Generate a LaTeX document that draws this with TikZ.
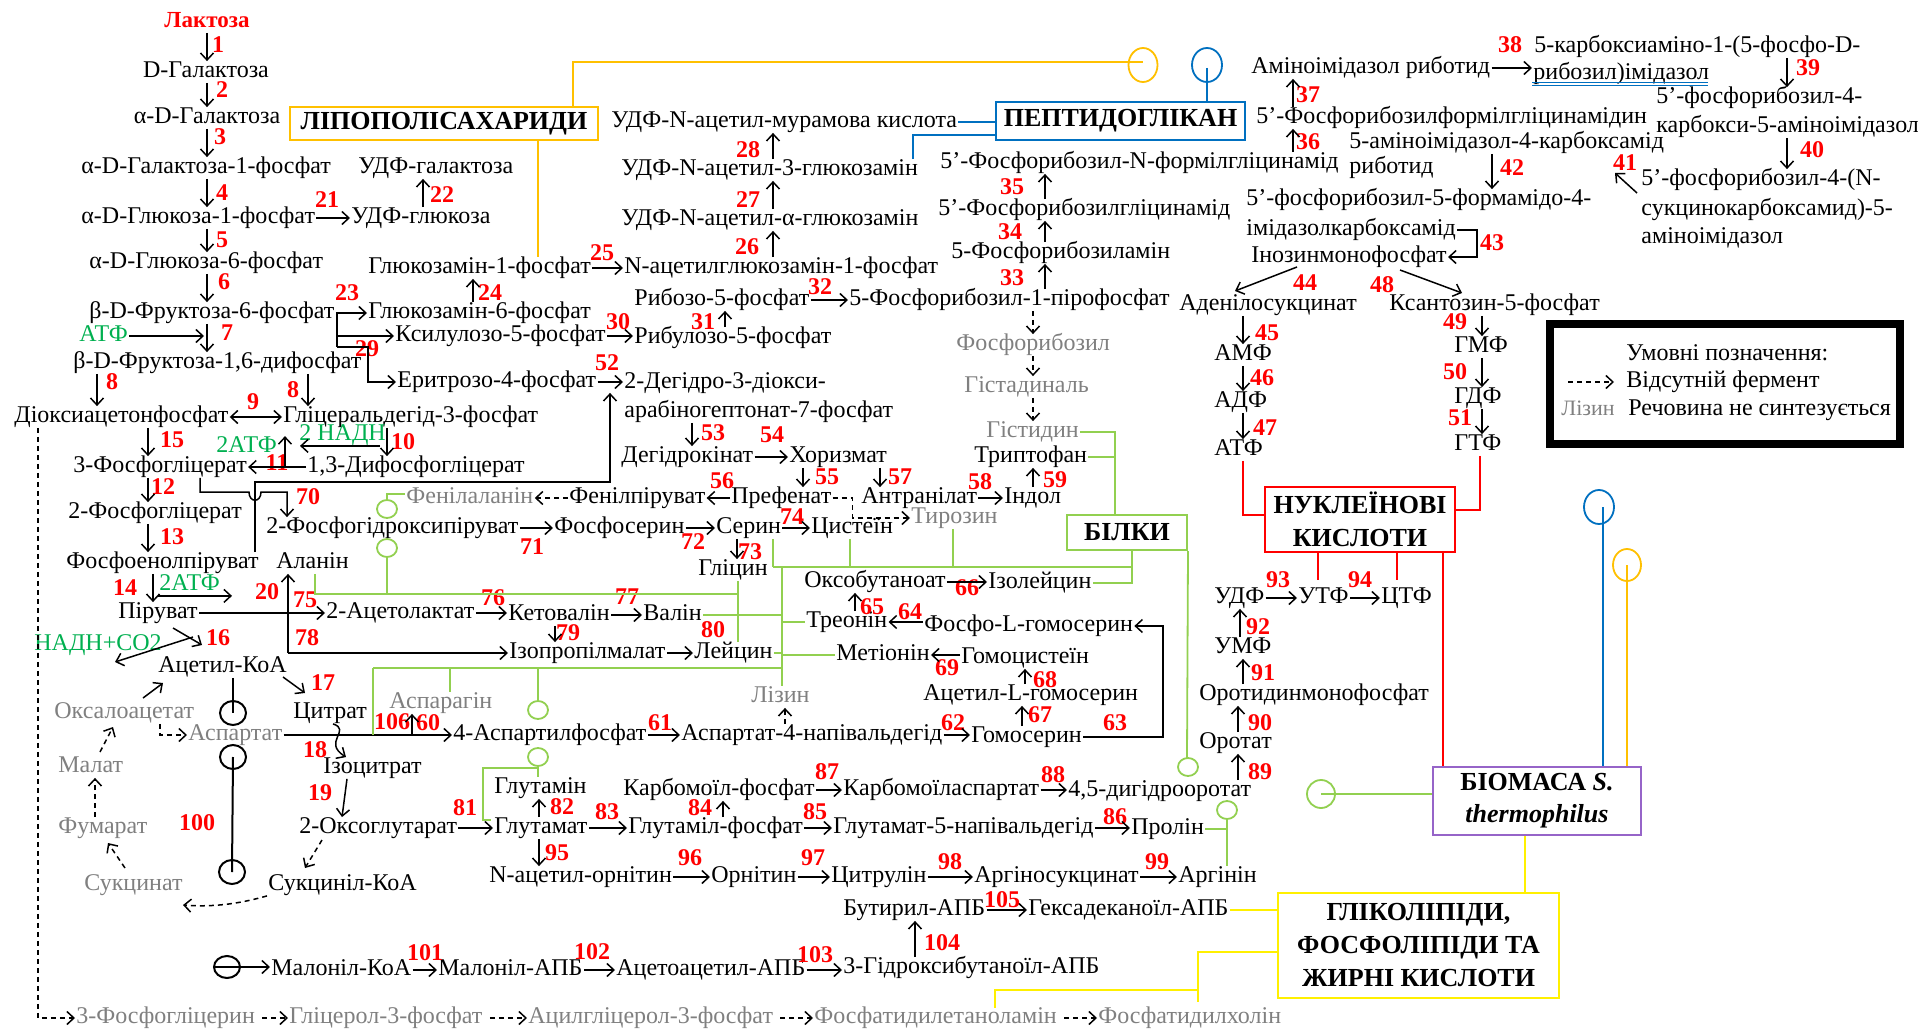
\documentclass[tikz,border=0pt]{standalone}
\usepackage{fontspec}
\setmainfont{Liberation Serif}
\usetikzlibrary{arrows.meta}
\definecolor{grn}{RGB}{0,176,80}
\definecolor{lgrn}{RGB}{146,208,80}
\definecolor{org}{RGB}{255,192,0}
\definecolor{blu}{RGB}{0,112,192}
\definecolor{ylw}{RGB}{255,240,0}
\definecolor{prp}{RGB}{150,100,200}
\definecolor{gry}{RGB}{128,128,128}
\newcommand\dnA[3]{\draw[arr] (#1,0 |- #2.south) -- (#1,0 |- #3.north);}
\newcommand\upA[3]{\draw[arr] (#1,0 |- #2.north) -- (#1,0 |- #3.south);}
\newcommand\hA[2]{\draw[arr] (#1.east) -- (#1.east -| #2.west);}
\begin{document}
\begin{tikzpicture}[x=0.5pt,y=-0.5pt,
 tx/.style={anchor=west,inner sep=0.5pt,font=\fontsize{12}{14}\selectfont,text height=7.5pt,text depth=2pt},
 cx/.style={tx,anchor=center},
 gx/.style={tx,text=gry},
 gtx/.style={tx,text=grn},
 num/.style={inner sep=0pt,font=\fontsize{12}{14}\selectfont\bfseries,text=red},
 bx/.style={draw,line width=1pt,font=\fontsize{13}{16.5}\selectfont\bfseries,align=center,inner sep=1pt},
 arr/.style={line width=0.75pt,-{Straight Barb[length=3.5pt,width=6.5pt]}},
 dbl/.style={line width=0.75pt,{Straight Barb[length=3.5pt,width=6.5pt]}-{Straight Barb[length=3.5pt,width=6.5pt]}},
 darr/.style={arr,dash pattern=on 2.5pt off 2pt},
 gl/.style={draw=lgrn,line width=0.9pt},
 ol/.style={draw=org,line width=0.9pt},
 bl/.style={draw=blu,line width=0.9pt},
 rl/.style={draw=red,line width=0.9pt},
 yl/.style={draw=ylw,line width=0.9pt},
 cl/.style={draw=black,line width=1pt}
]
\fill[white] (0,0) rectangle (1918,1032);
\useasboundingbox (0,0) rectangle (1918,1032);

% ---------------- left column ----------------
\node[cx,text=red,font=\fontsize{11.5}{14}\selectfont\bfseries] (lac) at (207,22) {Лактоза};
\node[cx] (dgal) at (206,72) {D-Галактоза};
\node[cx] (adgal) at (207,118) {α-D-Галактоза};
\node[tx] (gal1p) at (80,168) {α-D-Галактоза-1-фосфат};
\node[tx] (glc1p) at (80,218) {α-D-Глюкоза-1-фосфат};
\node[tx] (glc6p) at (88,263) {α-D-Глюкоза-6-фосфат};
\node[tx] (f6p) at (88,313) {β-D-Фруктоза-6-фосфат};
\node[gtx] (atpa) at (78,336) {АТФ};
\node[tx] (fbp) at (72,363) {β-D-Фруктоза-1,6-дифосфат};
\node[tx] (dhap) at (13,417) {Діоксиацетонфосфат};
\node[tx] (g3p) at (282,417) {Гліцеральдегід-3-фосфат};
\node[tx] (pg3) at (72,467) {3-Фосфогліцерат};
\node[tx] (bpg) at (306,467) {1,3-Дифосфогліцерат};
\node[gtx] (nadh) at (298,435) {2 НАДН};
\node[gtx] (atpb) at (215,447) {2АТФ};
\node[tx] (pg2) at (67,513) {2-Фосфогліцерат};
\node[tx] (php) at (265,528) {2-Фосфогідроксипіруват};
\node[tx] (pep) at (65,563) {Фосфоенолпіруват};
\node[tx] (ala) at (275,563) {Аланін};
\node[gtx] (atpc) at (158,585) {2АТФ};
\node[tx] (pyr) at (117,613) {Піруват};
\node[gtx] (nadhco) at (33,645) {НАДН+СО2};
\node[tx] (acoa) at (157,667) {Ацетил-КоА};
\node[gx] (oaa) at (53,713) {Оксалоацетат};
\node[tx] (cit) at (292,713) {Цитрат};
\node[gx] (asp) at (187,735) {Аспартат};
\node[gx] (mal) at (57,767) {Малат};
\node[tx] (icit) at (322,768) {Ізоцитрат};
\node[gx] (fum) at (57,828) {Фумарат};
\node[tx] (akg) at (298,828) {2-Оксоглутарат};
\node[gx] (succ) at (83,885) {Сукцинат};
\node[tx] (succoa) at (267,885) {Сукциніл-КоА};
\node[tx] (malcoa) at (270,970) {Малоніл-КоА};
\node[gx] (pgl) at (75,1018) {3-Фосфогліцерин};
\node[gx] (g3pl) at (288,1018) {Гліцерол-3-фосфат};
\node[gx] (lpa) at (527,1018) {Ацилгліцерол-3-фосфат};
\node[gx] (pe) at (813,1018) {Фосфатидилетаноламін};
\node[gx] (pc) at (1097,1018) {Фосфатидилхолін};

% ---------------- middle ----------------
\node[tx] (udpgal) at (357,168) {УДФ-галактоза};
\node[tx] (udpglc) at (350,218) {УДФ-глюкоза};
\node[bx,draw=org,minimum width=154pt,minimum height=16.5pt] (lps) at (444,123.5) {ЛІПОПОЛІСАХАРИДИ};
\node[tx] (gln1p) at (367,268) {Глюкозамін-1-фосфат};
\node[tx] (gln6p) at (367,313) {Глюкозамін-6-фосфат};
\node[tx] (xyl) at (394,336) {Ксилулозо-5-фосфат};
\node[tx] (ery) at (396,382) {Еритрозо-4-фосфат};
\node[tx] (nag1p) at (623,268) {N-ацетилглюкозамін-1-фосфат};
\node[tx] (udpnag) at (620,220) {УДФ-N-ацетил-α-глюкозамін};
\node[tx] (udpna3) at (620,170) {УДФ-N-ацетил-3-глюкозамін};
\node[tx] (udpnam) at (610,122) {УДФ-N-ацетил-мурамова кислота};
\node[tx] (r5p) at (633,300) {Рибозо-5-фосфат};
\node[tx] (ru5p) at (633,338) {Рибулозо-5-фосфат};
\node[tx] (prpp) at (848,300) {5-Фосфорибозил-1-пірофосфат};
\node[tx] (pra) at (950,253) {5-Фосфорибозиламін};
\node[tx] (gar) at (937,210) {5'-Фосфорибозилгліцинамід};
\node[tx,anchor=east] (fgar) at (1340,163) {5'-Фосфорибозил-N-формілгліцинамід};
\node[bx,draw=blu,minimum width=124.5pt,minimum height=19pt] (pept) at (1120.5,121) {ПЕПТИДОГЛІКАН};
\node[gx] (frib) at (955,345) {Фосфорибозил};
\node[gx] (hisal) at (963,387) {Гістадиналь};
\node[gx] (his) at (985,432) {Гістидин};
\node[tx] (trp) at (973,457) {Триптофан};
\node[tx] (indol) at (1003,498) {Індол};
\node[tx] (anth) at (860,498) {Антранілат};
\node[gx] (tyr) at (910,518) {Тирозин};
\node[tx] (preph) at (730,498) {Префенат};
\node[tx] (phpyr) at (568,498) {Фенілпіруват};
\node[gx] (phe) at (405,498) {Фенілаланін};
\node[tx] (dahpa) at (623,383) {2-Дегідро-3-діокси-};
\node[tx] (dahpb) at (623,412) {арабіногептонат-7-фосфат};
\node[tx] (dhq) at (620,457) {Дегідрокінат};
\node[tx] (chor) at (788,457) {Хоризмат};
\node[tx] (pser) at (553,528) {Фосфосерин};
\node[tx] (ser) at (715,528) {Серин};
\node[tx] (cys) at (810,528) {Цистеїн};
\node[tx] (gly) at (697,570) {Гліцин};
\node[tx] (oxob) at (803,582) {Оксобутаноат};
\node[tx] (ile) at (987,583) {Ізолейцин};
\node[bx,draw=lgrn,minimum width=60pt,minimum height=17.5pt] (bilki) at (1127,532.5) {БІЛКИ};
\node[tx] (thr) at (805,622) {Треонін};
\node[tx] (phser) at (923,626) {Фосфо-L-гомосерин};
\node[tx] (met) at (835,655) {Метіонін};
\node[tx] (hcys) at (960,658) {Гомоцистеїн};
\node[tx] (acser) at (922,695) {Ацетил-L-гомосерин};
\node[tx] (hser) at (970,737) {Гомосерин};
\node[tx] (alac) at (325,613) {2-Ацетолактат};
\node[tx] (kval) at (507,615) {Кетовалін};
\node[tx] (val) at (642,615) {Валін};
\node[tx] (ipm) at (508,653) {Ізопропілмалат};
\node[tx] (leu) at (693,653) {Лейцин};
\node[gx] (asn) at (388,703) {Аспарагін};
\node[gx] (lys) at (750,697) {Лізин};
\node[tx] (aspp) at (452,735) {4-Аспартилфосфат};
\node[tx] (asa) at (680,735) {Аспартат-4-напівальдегід};
\node[tx] (gln) at (493,788) {Глутамін};
\node[tx] (glu) at (493,828) {Глутамат};
\node[tx] (glup) at (627,828) {Глутаміл-фосфат};
\node[tx] (cp) at (622,790) {Карбомоїл-фосфат};
\node[tx] (casp) at (842,790) {Карбомоїласпартат};
\node[tx] (dho) at (1067,791) {4,5-дигідрооротат};
\node[tx] (gsa) at (832,828) {Глутамат-5-напівальдегід};
\node[tx] (pro) at (1130,829) {Пролін};
\node[tx] (nao) at (488,877) {N-ацетил-орнітин};
\node[tx] (orn) at (710,877) {Орнітин};
\node[tx] (citr) at (830,877) {Цитрулін};
\node[tx] (args) at (973,877) {Аргіносукцинат};
\node[tx] (arg) at (1177,877) {Аргінін};
\node[tx] (butacp) at (842,910) {Бутирил-АПБ};
\node[tx] (hexacp) at (1027,910) {Гексадеканоїл-АПБ};
\node[tx] (malacp) at (437,970) {Малоніл-АПБ};
\node[tx] (acacp) at (615,970) {Ацетоацетил-АПБ};
\node[tx] (hbacp) at (842,968) {3-Гідроксибутаноїл-АПБ};

% ---------------- right ----------------
\node[tx] (air) at (1250,68) {Аміноімідазол риботид};
\node[tx] (cair1) at (1533,47) {5-карбоксиаміно-1-(5-фосфо-D-};
\node[tx] (cair2) at (1532,74) {рибозил)імідазол};
\node[tx] (fgam) at (1255,118) {5'-Фосфорибозилформілгліцинамідин};
\node[tx] (aica1) at (1348,143) {5-аміноімідазол-4-карбоксамід};
\node[tx] (aica2) at (1348,168) {риботид};
\node[tx] (cair3) at (1655,98) {5'-фосфорибозил-4-};
\node[tx] (cair4) at (1655,127) {карбокси-5-аміноімідазол};
\node[tx] (saic1) at (1640,180) {5'-фосфорибозил-4-(N-};
\node[tx] (saic2) at (1640,210) {сукцинокарбоксамид)-5-};
\node[tx] (saic3) at (1640,238) {аміноімідазол};
\node[tx] (faica1) at (1245,200) {5'-фосфорибозил-5-формамідо-4-};
\node[tx] (faica2) at (1245,230) {імідазолкарбоксамід};
\node[tx] (imp) at (1250,257) {Інозинмонофосфат};
\node[tx] (adsucc) at (1178,305) {Аденілосукцинат};
\node[tx] (xmp) at (1388,305) {Ксантозин-5-фосфат};
\node[tx] (amp) at (1213,355) {АМФ};
\node[tx] (adp) at (1213,402) {АДФ};
\node[tx] (atp) at (1213,450) {АТФ};
\node[tx] (gmp) at (1453,347) {ГМФ};
\node[tx] (gdp) at (1453,398) {ГДФ};
\node[tx] (gtp) at (1453,445) {ГТФ};
\node[bx,draw=red,minimum width=95pt,minimum height=32.5pt] (nuc) at (1360,519.5) {НУКЛЕЇНОВІ\\КИСЛОТИ};
\node[tx] (udp) at (1213,598) {УДФ};
\node[tx] (utp) at (1297,598) {УТФ};
\node[tx] (ctp) at (1380,598) {ЦТФ};
\node[tx] (ump) at (1213,648) {УМФ};
\node[tx] (omp) at (1198,695) {Оротидинмонофосфат};
\node[tx] (oro) at (1198,743) {Оротат};
\node[bx,draw=prp,minimum width=104pt,minimum height=34pt,font=\fontsize{13}{16}\selectfont\bfseries] (bio) at (1537,801) {БІОМАСА \textit{S.}\\\textit{thermophilus}};
\node[bx,draw=ylw,minimum width=140.5pt,minimum height=52.5pt] (lip) at (1418.5,945.5) {ГЛІКОЛІПІДИ,\\ФОСФОЛІПІДИ ТА\\ЖИРНІ КИСЛОТИ};

% legend
\node[draw,line width=4pt,minimum width=175pt,minimum height=60pt,inner sep=0pt] (legend) at (1725,384) {};
\node[tx] (lg1) at (1625,355) {Умовні позначення:};
\node[tx] (lg2) at (1625,382) {Відсутній фермент};
\node[gx,font=\fontsize{11}{13}\selectfont] (lg3) at (1560,410) {Лізин};
\node[tx] (lg4) at (1627,410) {Речовина не синтезується};
\draw[darr] (lg2.west -| 1568,0) -- (lg2.west -| 1614,0);

% ---------------- numbers ----------------
\node[num] (n1) at (218,45) {1};
\node[num] (n2) at (222,90) {2};
\node[num] (n3) at (220,137) {3};
\node[num] (n4) at (222,193) {4};
\node[num] (n5) at (222,240) {5};
\node[num] (n6) at (224,282) {6};
\node[num] (n7) at (227,333) {7};
\node[num] (n8a) at (112,382) {8};
\node[num] (n8b) at (293,390) {8};
\node[num] (n9) at (253,402) {9};
\node[num] (n10) at (403,442) {10};
\node[num] (n11) at (277,463) {11};
\node[num] (n12) at (163,487) {12};
\node[num] (n13) at (172,537) {13};
\node[num] (n14) at (125,588) {14};
\node[num] (n15) at (172,440) {15};
\node[num] (n16) at (218,638) {16};
\node[num] (n17) at (323,683) {17};
\node[num] (n18) at (315,750) {18};
\node[num] (n19) at (320,793) {19};
\node[num] (n20) at (267,592) {20};
\node[num] (n21) at (327,200) {21};
\node[num] (n22) at (442,195) {22};
\node[num] (n23) at (347,293) {23};
\node[num] (n24) at (490,293) {24};
\node[num] (n25) at (602,253) {25};
\node[num] (n26) at (747,247) {26};
\node[num] (n27) at (748,200) {27};
\node[num] (n28) at (748,150) {28};
\node[num] (n29) at (367,349) {29};
\node[num] (n30) at (618,322) {30};
\node[num] (n31) at (703,322) {31};
\node[num] (n32) at (820,287) {32};
\node[num] (n33) at (1012,278) {33};
\node[num] (n34) at (1010,232) {34};
\node[num] (n35) at (1012,187) {35};
\node[num] (n36) at (1308,142) {36};
\node[num] (n37) at (1308,95) {37};
\node[num] (n38) at (1510,45) {38};
\node[num] (n39) at (1808,68) {39};
\node[num] (n40) at (1812,150) {40};
\node[num] (n41) at (1625,163) {41};
\node[num] (n42) at (1512,168) {42};
\node[num] (n43) at (1492,243) {43};
\node[num] (n44) at (1305,283) {44};
\node[num] (n45) at (1267,333) {45};
\node[num] (n46) at (1262,378) {46};
\node[num] (n47) at (1265,428) {47};
\node[num] (n48) at (1382,285) {48};
\node[num] (n49) at (1455,322) {49};
\node[num] (n50) at (1455,372) {50};
\node[num] (n51) at (1460,418) {51};
\node[num] (n52) at (607,363) {52};
\node[num] (n53) at (713,433) {53};
\node[num] (n54) at (772,435) {54};
\node[num] (n55) at (827,477) {55};
\node[num] (n56) at (722,481) {56};
\node[num] (n57) at (900,477) {57};
\node[num] (n58) at (980,482) {58};
\node[num] (n59) at (1055,480) {59};
\node[num] (n60) at (428,723) {60};
\node[num] (n61) at (660,723) {61};
\node[num] (n62) at (953,723) {62};
\node[num] (n63) at (1115,723) {63};
\node[num] (n64) at (910,612) {64};
\node[num] (n65) at (872,607) {65};
\node[num] (n66) at (967,588) {66};
\node[num] (n67) at (1040,715) {67};
\node[num] (n68) at (1045,680) {68};
\node[num] (n69) at (947,668) {69};
\node[num] (n70) at (308,497) {70};
\node[num] (n71) at (532,547) {71};
\node[num] (n72) at (693,542) {72};
\node[num] (n73) at (750,552) {73};
\node[num] (n74) at (792,517) {74};
\node[num] (n75) at (305,600) {75};
\node[num] (n76) at (493,598) {76};
\node[num] (n77) at (627,597) {77};
\node[num] (n78) at (307,638) {78};
\node[num] (n79) at (568,633) {79};
\node[num] (n80) at (713,630) {80};
\node[num] (n81) at (465,808) {81};
\node[num] (n82) at (562,807) {82};
\node[num] (n83) at (607,812) {83};
\node[num] (n84) at (700,808) {84};
\node[num] (n85) at (815,812) {85};
\node[num] (n86) at (1115,817) {86};
\node[num] (n87) at (827,772) {87};
\node[num] (n88) at (1053,775) {88};
\node[num] (n89) at (1260,772) {89};
\node[num] (n90) at (1260,723) {90};
\node[num] (n91) at (1263,673) {91};
\node[num] (n92) at (1258,627) {92};
\node[num] (n93) at (1278,580) {93};
\node[num] (n94) at (1360,580) {94};
\node[num] (n95) at (557,853) {95};
\node[num] (n96) at (690,858) {96};
\node[num] (n97) at (813,858) {97};
\node[num] (n98) at (950,862) {98};
\node[num] (n99) at (1157,862) {99};
\node[num] (n100) at (197,823) {100};
\node[num] (n101) at (425,953) {101};
\node[num] (n102) at (592,952) {102};
\node[num] (n103) at (815,955) {103};
\node[num] (n104) at (942,943) {104};
\node[num] (n105) at (1002,900) {105};
\node[num] (n106) at (392,722) {106};

% ---------------- arrows: left column ----------------
\dnA{207}{lac}{dgal}
\dnA{207}{dgal}{adgal}
\dnA{207}{adgal}{gal1p}
\dnA{207}{gal1p}{glc1p}
\dnA{207}{glc1p}{glc6p}
\dnA{207}{glc6p}{f6p}
\dnA{207}{f6p}{fbp}
\draw[arr] (atpa.east) -- (atpa.east -| 204,0);
\dnA{97}{fbp}{dhap}
\dnA{308}{fbp}{g3p}
\draw[dbl] (dhap.east) -- (dhap.east -| g3p.west);
\dnA{148}{dhap}{pg3}
\dnA{387}{g3p}{bpg}
\draw[arr] (nadh.south -| 380,0) -- (nadh.south -| 300,0);
\draw[arr] (bpg.west) -- (bpg.west -| pg3.east);
\draw[arr] (bpg.west -| 285,0) -- (285,0 |- atpb.north);
\dnA{148}{pg3}{pg2}
\dnA{148}{pg2}{pep}
\dnA{153}{pep}{pyr}
\draw[arr] (atpc.south west) -- (atpc.south west -| 232,0);
\draw[arr] (200,0 |- pg3.south) -- (200,492) -- (249,492) .. controls (249,503) and (261,503) .. (261,492) -- (287,492) -- (287,0 |- php.north);
\draw[arr] (255,0 |- pep.north) -- (255,482) -- (610,482) -- (610,0 |- ery.south);
\draw[arr] (pyr.east) -- (pyr.east -| alac.west);
\draw[arr] (ipm.west -| 288,0) -- (288,0 |- ala.south);
\draw[arr] (ipm.west -| 288,0) -- (ipm.west);
\draw[arr] (173,628) -- (202,645);
\draw[arr] (193,637) -- (115,662);
\draw[arr] (143,698) -- (163,683);
\draw[arr] (283,677) -- (305,693);
\draw[arr] (333,0 |- cit.south) .. controls (352,730) and (322,742) .. (346,0 |- icit.north);
\draw[arr] (347,0 |- icit.south) -- (342,0 |- akg.north);
\draw[darr] (322,840) -- (305,868);
\draw[darr] (succoa.south west) .. controls (235,905) and (210,907) .. (183,905);
\draw[darr] (125,868) -- (108,843);
\draw[darr] (95,0 |- fum.north) -- (95,0 |- mal.south);
\draw[darr] (100,752) -- (113,727);
\draw[darr] (160,0 |- oaa.south) |- (asp.west);
\draw[darr] (38,0 |- dhap.south) |- (pgl.west);
\draw[darr,shorten <=3pt] (pgl.east) -- (pgl.east -| g3pl.west);
\draw[darr,shorten <=3pt] (g3pl.east) -- (g3pl.east -| lpa.west);
\draw[darr,shorten <=3pt] (lpa.east) -- (lpa.east -| pe.west);
\draw[darr,shorten <=3pt] (pe.east) -- (pe.east -| pc.west);

% circles (TCA inhibition marks)
\draw[cl] (233,0 |- acoa.south) -- (233,713);
\draw[cl] (233,713) ellipse [x radius=6.5pt, y radius=6pt];
\draw[cl] (233,757) ellipse [x radius=6.5pt, y radius=6pt];
\draw[cl] (232,872) ellipse [x radius=6.5pt, y radius=6pt];
\draw[cl] (233,757) -- (232,872);
\draw[cl] (227,967) ellipse [x radius=6.5pt, y radius=5.5pt];
\draw[arr] (213,967) -- (malcoa.west |- 0,967);

% ---------------- arrows: middle ----------------
\hA{glc1p}{udpglc}
\upA{423}{udpglc}{udpgal}
\draw[arr] (f6p.east) -- (f6p.east -| gln6p.west);
\draw[line width=0.75pt] (337,313) -- (337,347);
\draw[arr] (337,0 |- xyl.west) -- (xyl.west);
\draw[arr] (337,347) -- (368,347) |- (ery.west);
\upA{473}{gln6p}{gln1p}
\hA{gln1p}{nag1p}
\upA{773}{nag1p}{udpnag}
\upA{773}{udpnag}{udpna3}
\upA{773}{udpna3}{udpnam}
\hA{xyl}{ru5p}
\upA{725}{ru5p}{r5p}
\hA{r5p}{prpp}
\upA{1045}{prpp}{pra}
\upA{1045}{pra}{gar}
\upA{1045}{gar}{fgar}
\draw[darr] (1033,0 |- prpp.south) -- (1033,0 |- frib.north);
\draw[darr] (1033,0 |- frib.south) -- (1033,0 |- hisal.north);
\draw[darr] (1033,0 |- hisal.south) -- (1033,0 |- his.north);
\hA{ery}{dahpa}
\dnA{692}{dahpb}{dhq}
\hA{dhq}{chor}
\dnA{803}{chor}{preph}
\dnA{880}{chor}{anth}
\draw[arr] (preph.west) -- (preph.west -| phpyr.east);
\draw[darr] (phpyr.west) -- (phpyr.west -| phe.east);
\draw[darr] (preph.east) -- ++(20,0) |- (tyr.west);
\hA{anth}{indol}
\upA{1033}{indol}{trp}
\hA{php}{pser}
\hA{pser}{ser}
\hA{ser}{cys}
\dnA{737}{ser}{gly}
\hA{alac}{kval}
\hA{kval}{val}
\dnA{555}{kval}{ipm}
\hA{ipm}{leu}
\draw[arr] (asp.east) -- (asp.east -| aspp.west);
\draw[arr] (asp.east -| 412,0) -- (412,0 |- asn.south);
\hA{aspp}{asa}
\hA{asa}{hser}
\draw[darr] (785,0 |- asa.north) -- (785,0 |- lys.south);
\draw[arr] (hser.east) -- ++(80,0) |- (phser.east);
\draw[arr] (phser.west |- thr.east) -- (thr.east);
\upA{855}{thr}{oxob}
\hA{oxob}{ile}
\upA{1022}{hser}{acser}
\upA{1025}{acser}{hcys}
\draw[arr] (hcys.west |- met.east) -- (met.east);
\hA{akg}{glu}
\upA{539}{glu}{gln}
\hA{glu}{glup}
\upA{723}{glup}{cp}
\hA{glup}{gsa}
\hA{gsa}{pro}
\hA{cp}{casp}
\hA{casp}{dho}
\dnA{539}{glu}{nao}
\hA{nao}{orn}
\hA{orn}{citr}
\hA{citr}{args}
\hA{args}{arg}
\hA{malcoa}{malacp}
\hA{malacp}{acacp}
\hA{acacp}{hbacp}
\upA{915}{hbacp}{butacp}
\hA{butacp}{hexacp}

% ---------------- arrows: right ----------------
\upA{1293}{fgar}{fgam}
\upA{1293}{fgam}{air}
\draw[arr] (air.east) -- (air.east -| cair2.west);
\dnA{1787}{cair1}{cair3}
\dnA{1787}{cair4}{saic1}
\draw[arr] (1637,193) -- (1615,173);
\dnA{1492}{aica1}{faica1}
\draw[arr] (faica2.east) -- ++(20,0) |- (imp.east);
\draw[arr] (1297,267) -- (1235,291);
\draw[arr] (1400,270) -- (1462,293);
\dnA{1243}{adsucc}{amp}
\dnA{1243}{amp}{adp}
\dnA{1243}{adp}{atp}
\dnA{1482}{xmp}{gmp}
\dnA{1482}{gmp}{gdp}
\dnA{1482}{gdp}{gtp}
\upA{1238}{dho}{oro}
\upA{1238}{oro}{omp}
\upA{1243}{omp}{ump}
\upA{1240}{ump}{udp}
\hA{udp}{utp}
\hA{utp}{ctp}
\draw[draw=blu,line width=0.6pt] (cair2.south west) ++(0,-2) -- ++(176,0);
\draw[draw=blu,line width=0.6pt] (cair2.south west) ++(0,1) -- ++(176,0);

% ---------------- coloured links ----------------
% orange (lipopolysaccharides)
\draw[ol] (573,0 |- lps.north) -- (573,62) -- (1143,62);
\draw[ol] (1143,65) ellipse [x radius=7.25pt, y radius=8.5pt];
\draw[ol] (538,0 |- lps.south) -- (538,0 |- gln1p.north);
\draw[ol] (1627,565) ellipse [x radius=7pt, y radius=8pt];
\draw[ol] (1627,565) -- (1627,0 |- bio.north);
% blue (peptidoglycan)
\draw[bl] (udpnam.east) -- (udpnam.east -| pept.west);
\draw[bl] (913,0 |- udpna3.north) -- (913,135) -- (pept.west |- 913,135);
\draw[bl] (1207,65) ellipse [x radius=7.5pt, y radius=8.5pt];
\draw[bl] (1207,68) -- (1207,0 |- pept.north);
\draw[bl] (1599,507) ellipse [x radius=7.5pt, y radius=8.5pt];
\draw[bl] (1603,507) -- (1603,0 |- bio.north);
% red (nucleic acids)
\draw[rl] (1243,0 |- atp.south) -- (1243,515) -- (nuc.west |- 1243,515);
\draw[rl] (1480,0 |- gtp.south) -- (1480,510) -- (nuc.east |- 1480,510);
\draw[rl] (1318,0 |- nuc.south) -- (1318,580);
\draw[rl] (1397,0 |- nuc.south) -- (1397,580);
\draw[rl] (1443,0 |- nuc.south) -- (1443,0 |- bio.north);
% yellow (lipids)
\draw[yl] (hexacp.east) -- (lip.west |- hexacp.east);
\draw[yl] (lip.west |- 0,952) -- (1198,952) -- (1198,1002);
\draw[yl] (1198,990) -- (995,990) -- (995,1008);
\draw[yl] (1525,0 |- bio.south) -- (1525,0 |- lip.north);
% green (proteins)
\draw[gl] (his.east) -- (1115,0 |- his.east) -- (1115,0 |- bilki.north);
\draw[gl] (trp.east) -- (1115,0 |- trp.east);
\draw[gl] (1132,0 |- bilki.south) |- (ile.east);
\draw[gl] (1132,567) -- (773,567);
\draw[gl] (953,0 |- tyr.south) -- (953,567);
\draw[gl] (850,0 |- cys.south) -- (850,567);
\draw[gl] (773,0 |- ser.south) -- (773,567);
\draw[gl] (782,567) -- (782,0 |- lys.north);
\draw[gl] (782,0 |- thr.west) -- (thr.west);
\draw[gl] (782,0 |- met.west) -- (met.west);
\draw[gl] (val.east) -- (782,0 |- val.east);
\draw[gl] (leu.east) -- (782,0 |- leu.east);
\draw[gl] (373,668) -- (782,668);
\draw[gl] (373,668) -- (373,735);
\draw[gl] (450,668) -- (450,0 |- asn.north);
\draw[gl] (538,668) -- (538,701);
\draw[gl] (538,710) ellipse [x radius=5pt, y radius=4.5pt];
\draw[gl] (315,0 |- ala.south) -- (315,594) -- (738,594);
\draw[gl] (387,557) -- (387,594);
\draw[gl] (387,548) ellipse [x radius=5pt, y radius=4.5pt];
\draw[gl] (738,0 |- gly.south) -- (738,0 |- leu.north);
\draw[gl] (387,509) ellipse [x radius=5pt, y radius=4.5pt];
\draw[gl] (387,500) -- (387,494) -- (phe.west |- 0,494);
\draw[gl] (538,757) ellipse [x radius=5pt, y radius=4.5pt];
\draw[gl] (538,766) -- (538,0 |- gln.north);
\draw[gl] (538,768) -- (483,768) -- (483,820) -- (491,820);
\draw[gl] (bilki.south east) -- (1187,758);
\draw[gl] (1188,767) ellipse [x radius=5pt, y radius=4.5pt];
\draw[gl] (1227,810) ellipse [x radius=5pt, y radius=4.5pt];
\draw[gl] (1227,819) -- (1227,0 |- arg.north);
\draw[gl] (pro.east) -- (1227,0 |- pro.east);
\draw[gl] (1321,794) ellipse [x radius=7pt, y radius=7pt];
\draw[gl] (1321,794) -- (bio.west |- 0,794);
\end{tikzpicture}
\end{document}
